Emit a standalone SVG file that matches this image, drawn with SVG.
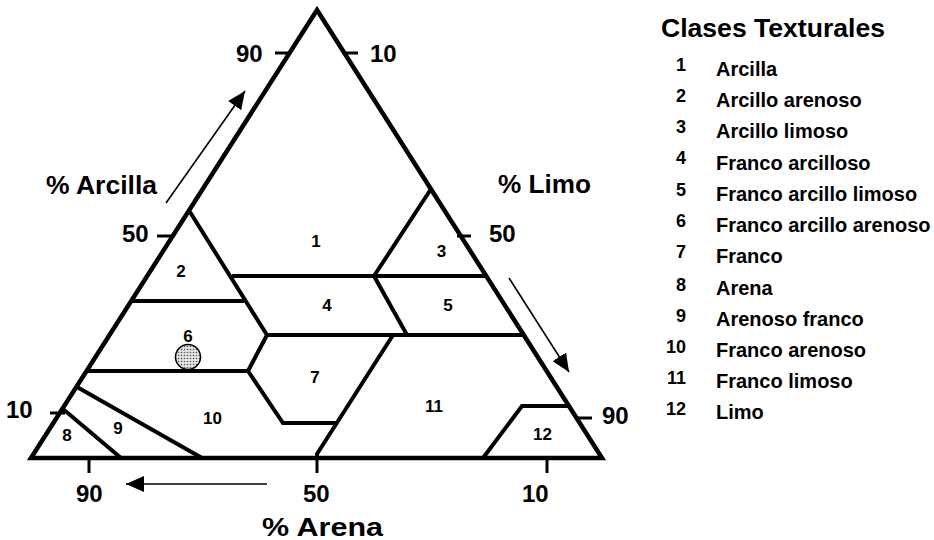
<svg xmlns="http://www.w3.org/2000/svg" width="934" height="540" viewBox="0 0 934 540">
<style>
text{font-family:"Liberation Sans",Arial,sans-serif;font-weight:bold;fill:#000}
.edge{stroke:#000;stroke-width:4.5;fill:none;stroke-linejoin:miter}
.b{stroke:#000;stroke-width:4;fill:none;stroke-linejoin:miter}
.tick{stroke:#000;stroke-width:3;fill:none}
.arr{stroke:#000;stroke-width:1.6;fill:none;marker-end:url(#ah)}
.ax{font-size:24px}
.lbl{font-size:17px;text-anchor:middle}
.ln{font-size:18px;text-anchor:end}
.lt{font-size:20px}
</style>
<defs>
<marker id="ah" viewBox="0 0 18 16" refX="18" refY="8" markerWidth="18" markerHeight="16" markerUnits="userSpaceOnUse" orient="auto">
<path d="M0,0 L18,8 L0,16 z" fill="#000"/>
</marker>
<pattern id="dots" width="3" height="3" patternUnits="userSpaceOnUse">
<rect width="3" height="3" fill="#e4e4e4"/>
<circle cx="1.5" cy="1.5" r="0.8" fill="#555"/>
</pattern>
</defs>
<rect width="934" height="540" fill="#fff"/>
<g id="triangle">
<polygon class="edge" points="31,458 317,10 602,458"/>
</g>
<g id="connectors">
<polyline class="b" points="190,212 267,335 248,371 283,423 337,423"/>
<line class="b" x1="232" y1="276" x2="487" y2="276"/>
<line class="b" x1="132" y1="301" x2="244" y2="301"/>
<polyline class="b" points="431,189 374,276 407,335"/>
<line class="b" x1="267" y1="335" x2="524" y2="335"/>
<line class="b" x1="87" y1="371" x2="248" y2="371"/>
<polyline class="b" points="393,335 317,454 317,458"/>
<line class="b" x1="77" y1="387" x2="202" y2="458"/>
<line class="b" x1="63" y1="409" x2="121" y2="458"/>
<polyline class="b" points="483,458 522,406 570,406"/>
</g>
<g id="ticks">
<line class="tick" x1="275" y1="53" x2="291" y2="53"/>
<line class="tick" x1="344" y1="53" x2="358" y2="53"/>
<line class="tick" x1="157" y1="236" x2="172" y2="236"/>
<line class="tick" x1="457" y1="236" x2="471" y2="236"/>
<line class="tick" x1="50" y1="413" x2="65" y2="413"/>
<line class="tick" x1="578" y1="418" x2="592" y2="418"/>
<line class="tick" x1="89" y1="458" x2="89" y2="473"/>
<line class="tick" x1="317" y1="458" x2="317" y2="473"/>
<line class="tick" x1="547" y1="458" x2="547" y2="473"/>
</g>
<g id="axis-labels">
<text class="ax" x="236" y="62">90</text>
<text class="ax" x="370" y="62">10</text>
<text class="ax" x="122" y="242">50</text>
<text class="ax" x="489" y="242">50</text>
<text class="ax" x="6" y="418">10</text>
<text class="ax" x="602" y="424">90</text>
<text class="ax" x="76" y="502">90</text>
<text class="ax" x="303" y="502">50</text>
<text class="ax" x="522" y="502">10</text>
<text x="46" y="194" font-size="25" textLength="111" lengthAdjust="spacingAndGlyphs">% Arcilla</text>
<text x="498" y="193" font-size="25" textLength="93" lengthAdjust="spacingAndGlyphs">% Limo</text>
<text x="262" y="536" font-size="25" textLength="121" lengthAdjust="spacingAndGlyphs">% Arena</text>
</g>
<g id="arrows">
<line class="arr" x1="166" y1="203" x2="245" y2="91"/>
<line class="arr" x1="509" y1="278" x2="569" y2="372"/>
<line class="arr" x1="267" y1="484" x2="126" y2="484"/>
</g>
<g id="sample">
<circle cx="188" cy="357" r="12.5" fill="url(#dots)" stroke="#000" stroke-width="1.5"/>
</g>
<g id="region-1"><text class="lbl" x="316" y="247">1</text></g>
<g id="region-2"><text class="lbl" x="181" y="277">2</text></g>
<g id="region-3"><text class="lbl" x="441.5" y="257">3</text></g>
<g id="region-4"><text class="lbl" x="327" y="311">4</text></g>
<g id="region-5"><text class="lbl" x="448" y="311">5</text></g>
<g id="region-6"><text class="lbl" x="188" y="342">6</text></g>
<g id="region-7"><text class="lbl" x="315" y="383">7</text></g>
<g id="region-8"><text class="lbl" x="67" y="441">8</text></g>
<g id="region-9"><text class="lbl" x="118" y="434">9</text></g>
<g id="region-10"><text class="lbl" x="212.5" y="424">10</text></g>
<g id="region-11"><text class="lbl" x="434" y="412">11</text></g>
<g id="region-12"><text class="lbl" x="542.5" y="440">12</text></g>
<g id="legend">
<text x="661" y="37" font-size="25" textLength="224" lengthAdjust="spacingAndGlyphs">Clases Texturales</text>
<text class="ln" x="686" y="71">1</text><text class="lt" x="716" y="76">Arcilla</text>
<text class="ln" x="686" y="102">2</text><text class="lt" x="716" y="107">Arcillo arenoso</text>
<text class="ln" x="686" y="133">3</text><text class="lt" x="716" y="138">Arcillo limoso</text>
<text class="ln" x="686" y="164">4</text><text class="lt" x="716" y="170">Franco arcilloso</text>
<text class="ln" x="686" y="196">5</text><text class="lt" x="716" y="201">Franco arcillo limoso</text>
<text class="ln" x="686" y="227">6</text><text class="lt" x="716" y="232">Franco arcillo arenoso</text>
<text class="ln" x="686" y="258">7</text><text class="lt" x="716" y="263">Franco</text>
<text class="ln" x="686" y="291">8</text><text class="lt" x="716" y="295">Arena</text>
<text class="ln" x="686" y="322">9</text><text class="lt" x="716" y="326">Arenoso franco</text>
<text class="ln" x="686" y="353">10</text><text class="lt" x="716" y="357">Franco arenoso</text>
<text class="ln" x="686" y="384">11</text><text class="lt" x="716" y="388">Franco limoso</text>
<text class="ln" x="686" y="415">12</text><text class="lt" x="716" y="419">Limo</text>
</g>
</svg>
